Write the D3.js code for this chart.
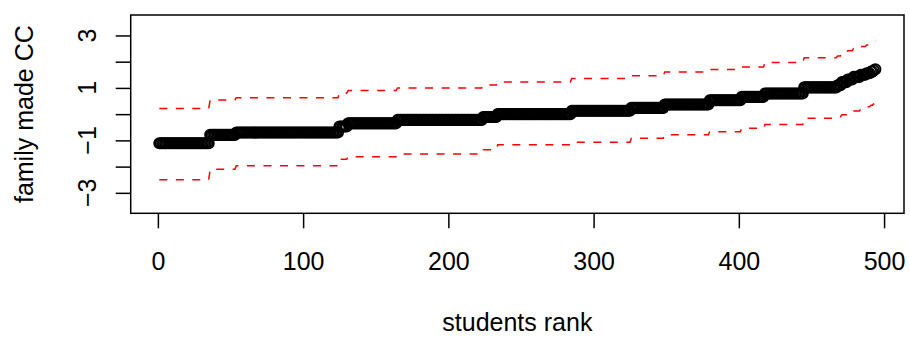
<!DOCTYPE html>
<html>
<head>
<meta charset="utf-8">
<script src="https://cdn.jsdelivr.net/npm/d3@7"></script>
<style>
  body { margin: 0; background: #fff; }
  svg text { font-family: "Liberation Sans", Arial, sans-serif; fill: #000; }
</style>
</head>
<body>
<svg id="svg_cc" width="910" height="337"></svg>
<script>
// step runs of the sorted estimates (students ranked 1..494)
const runLength = [35, 18, 71, 6, 34, 59, 10, 51, 41, 23, 31, 22, 16, 27, 23, 3, 4, 4, 5, 4, 3, 2, 1, 1];
const estimate = [-1.11, -0.79, -0.70, -0.47, -0.35, -0.22, -0.11, 0.00, 0.13, 0.24, 0.37, 0.53, 0.66, 0.79, 1.02, 1.10, 1.22, 1.32, 1.42, 1.50, 1.56, 1.62, 1.67, 1.71];
const upper = [0.22, 0.54, 0.63, 0.80, 0.90, 1.00, 1.11, 1.23, 1.36, 1.46, 1.61, 1.70, 1.80, 1.97, 2.15, 2.22, 2.33, 2.42, 2.50, 2.58, 2.64, 2.70, 2.75, 2.80];
const lower = [-2.50, -2.10, -1.97, -1.72, -1.62, -1.52, -1.36, -1.17, -1.07, -0.92, -0.79, -0.67, -0.54, -0.39, -0.16, -0.10, -0.02, 0.09, 0.12, 0.20, 0.28, 0.34, 0.40, 0.45];

const xTicks = [0, 100, 200, 300, 400, 500];
const yTicks = [-3, -2, -1, 0, 1, 2, 3];
const yLabels = [-3, -1, 1, 3];
const yLimits = [-3.5, 3.5];

const boxLeft = 130.7;
const boxRight = 904;
const boxTop = 15;
const boxBottom = 213.3;

// one row per student, expanded from the runs
const students = [];
runLength.forEach((len, i) => {
  for (let k = 0; k < len; k++) {
    students.push({ rank: students.length + 1, est: estimate[i], hi: upper[i], lo: lower[i] });
  }
});

const n = students.length;
const padX = (n - 1) * 0.04;
const padY = (yLimits[1] - yLimits[0]) * 0.04;

const xScale = d3.scaleLinear()
  .domain([1 - padX, n + padX])
  .range([boxLeft, boxRight]);
const yScale = d3.scaleLinear()
  .domain([yLimits[0] - padY, yLimits[1] + padY])
  .range([boxBottom, boxTop]);

const svg = d3.select('#svg_cc');

// red dashed interval lines
const line = (key) => d3.line()
  .x((d) => xScale(d.rank))
  .y((d) => yScale(d[key]));

['hi', 'lo'].forEach((key) => {
  svg.append('path')
    .datum(students)
    .attr('d', line(key))
    .attr('fill', 'none')
    .attr('stroke', '#ff0000')
    .attr('stroke-width', 1.5)
    .attr('stroke-dasharray', '8,8.5');
});

// open circles for estimates
svg.append('g')
  .selectAll('circle')
  .data(students)
  .enter()
  .append('circle')
  .attr('cx', (d) => xScale(d.rank))
  .attr('cy', (d) => yScale(d.est))
  .attr('r', 5.2)
  .attr('fill', 'none')
  .attr('stroke', '#000')
  .attr('stroke-width', 1.7);

// box
svg.append('rect')
  .attr('x', boxLeft)
  .attr('y', boxTop)
  .attr('width', boxRight - boxLeft)
  .attr('height', boxBottom - boxTop)
  .attr('fill', 'none')
  .attr('stroke', '#000')
  .attr('stroke-width', 1.5);

// x axis
const xAxis = svg.append('g')
  .attr('transform', `translate(0, ${boxBottom})`)
  .call(d3.axisBottom(xScale).tickValues(xTicks).tickSize(15).tickPadding(24));
xAxis.select('.domain').remove();
xAxis.selectAll('line').attr('stroke', '#000').attr('stroke-width', 1.5);
xAxis.selectAll('text')
  .style('font-size', '25px')
  .style('font-family', '"Liberation Sans", Arial, sans-serif');

// y axis, labels parallel to the axis
const yAxis = svg.append('g')
  .attr('transform', `translate(${boxLeft}, 0)`)
  .call(d3.axisLeft(yScale).tickValues(yTicks).tickSize(15).tickFormat(''));
yAxis.select('.domain').remove();
yAxis.selectAll('line').attr('stroke', '#000').attr('stroke-width', 1.5);

svg.append('g')
  .selectAll('text')
  .data(yLabels)
  .enter()
  .append('text')
  .text((d) => d3.format('d')(d))
  .attr('transform', (d) => `translate(95.5, ${yScale(d)}) rotate(-90)`)
  .attr('text-anchor', 'middle')
  .style('font-size', '25px');

// axis titles
svg.append('text')
  .text('students rank')
  .attr('x', (boxLeft + boxRight) / 2)
  .attr('y', 330.5)
  .attr('text-anchor', 'middle')
  .style('font-size', '25px');

svg.append('text')
  .text('family made CC')
  .attr('transform', `translate(33, ${(boxTop + boxBottom) / 2}) rotate(-90)`)
  .attr('text-anchor', 'middle')
  .style('font-size', '25px');
</script>
</body>
</html>
